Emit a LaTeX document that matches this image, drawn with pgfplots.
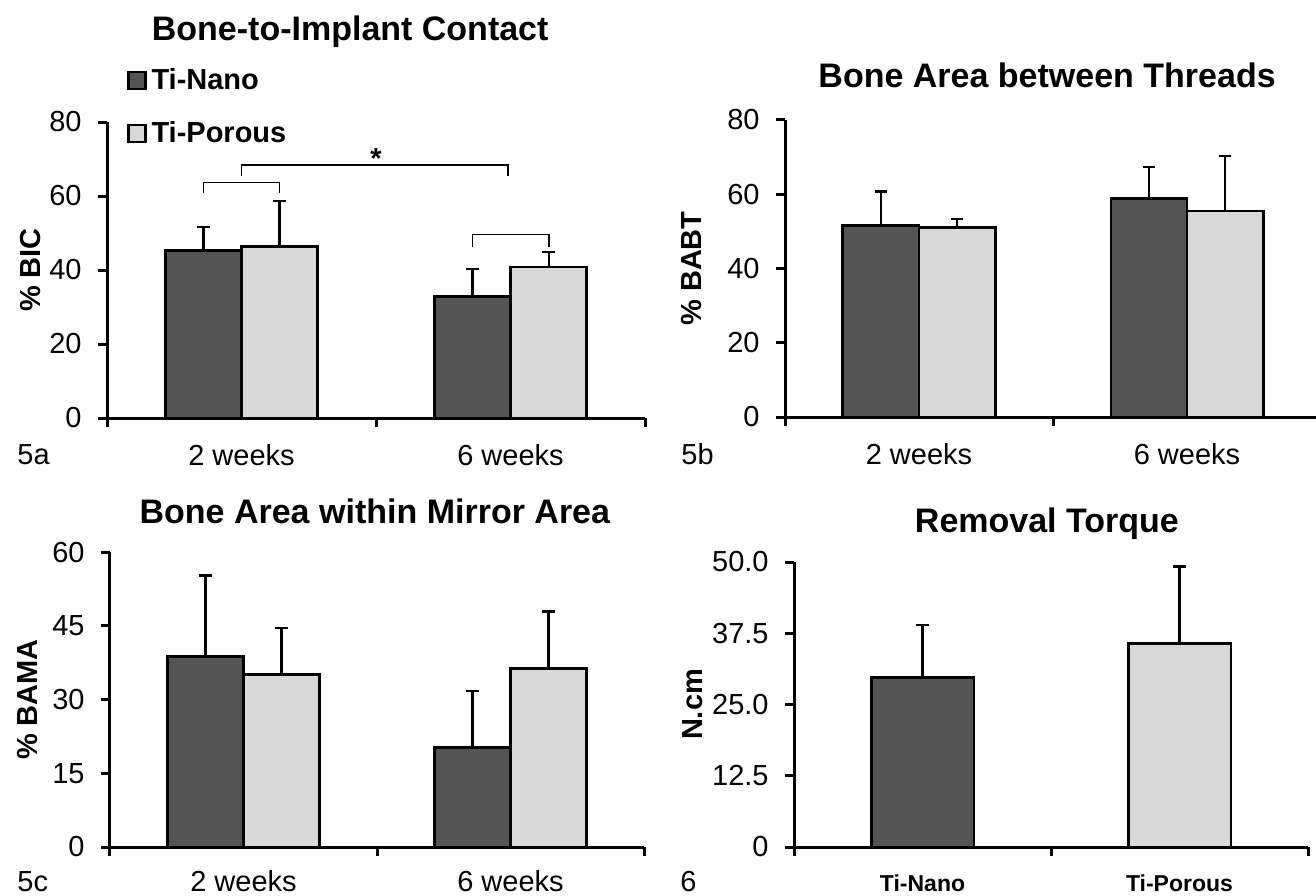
\documentclass[border=0pt]{standalone}
\usepackage{pgfplots}
\pgfplotsset{compat=1.18}
\usepackage{fontspec}
\setmainfont{Liberation Sans}
\definecolor{nano}{RGB}{84,84,84}
\definecolor{porous}{RGB}{216,216,216}
\newcommand{\fs}[1]{\fontsize{#1}{#1}\selectfont}
\pgfplotsset{
  panel/.style={
    scale only axis, clip=false,
    axis lines*=left,
    axis line style={line width=1.5pt},
    tick align=outside,
    major tick length=4.5pt,
    every tick/.append style={line width=1.5pt, black},
    xmin=-0.5, xmax=1.5, ymin=0,
    xtick={-0.5,0.5,1.5}, xticklabels={},
    extra x ticks={0,1},
    extra x tick style={major tick length=0pt},
    /pgf/number format/assume math mode=true,
    tick label style={font=\fs{14.5}},
    yticklabel style={anchor=east, inner sep=0pt, xshift=-8pt},
    xticklabel style={anchor=base, inner sep=0pt, yshift=-23.5pt},
    ybar=0pt, bar width=0.284,
    every axis plot/.append style={draw=black, line width=1.4pt},
    error bars/y dir=plus, error bars/y explicit,
    error bars/error bar style={line width=1.2pt, black, solid},
    error bars/error mark options={line width=1.2pt, mark size=3.2pt, black, rotate=90},
    every axis title/.style={anchor=base, inner sep=0pt, font=\bfseries\fs{17}},
    every axis y label/.style={rotate=90, anchor=center, inner sep=0pt, font=\bfseries\fs{14.5}},
  },
}
\begin{document}
\begin{tikzpicture}
\useasboundingbox (0,0) rectangle (658pt,447.5pt);
% ---------- 5a ----------
\begin{axis}[panel, at={(53.5pt,238.5pt)}, anchor=south west, width=269pt, height=148pt,
  ymax=80, ytick={0,20,40,60,80}, extra x tick labels={2 weeks,6 weeks},
  title={Bone-to-Implant Contact}, title style={at={(rel axis cs:0.452,1.277)}},
  ylabel={\% BIC}, ylabel style={at={(rel axis cs:-0.143,0.5)}},
  legend style={at={(rel axis cs:0.037,1.182)}, anchor=north west, draw=none, fill=none,
    inner sep=0pt, row sep=14.5pt, font=\bfseries\fs{14.5}, nodes={inner sep=0pt},
    /tikz/every odd column/.append style={column sep=2.5pt}},
  legend cell align=left,
  legend image code/.code={\draw[#1, line width=1.2pt] (0pt,-4.2pt) rectangle (8.4pt,4.2pt);},
  ]
\addplot[fill=nano] coordinates {(0,45.3) +- (0,6.4) (1,32.8) +- (0,7.5)};
\addplot[fill=porous] coordinates {(0,46.4) +- (0,12.2) (1,40.8) +- (0,4.1)};
\legend{Ti-Nano, Ti-Porous}
\draw[line width=0.8pt] (axis cs:-0.142,60.7) -- (axis cs:-0.142,63.6) -- (axis cs:0.142,63.6) -- (axis cs:0.142,60.7);
\draw[line width=0.8pt] (axis cs:0,65.5) -- (axis cs:0,68.3) -- (axis cs:0.99,68.3) -- (axis cs:0.99,65.5);
\draw[line width=0.8pt] (axis cs:0.858,46.2) -- (axis cs:0.858,49.6) -- (axis cs:1.142,49.6) -- (axis cs:1.142,46.2);
\node[font=\bfseries\fs{14.5}, inner sep=0pt] at (axis cs:0.5,70.2) {*};
\end{axis}
% ---------- 5b ----------
\begin{axis}[panel, at={(392.5pt,239pt)}, anchor=south west, width=268pt, height=148.5pt,
  ymax=80, ytick={0,20,40,60,80}, extra x tick labels={2 weeks,6 weeks},
  title={Bone Area between Threads}, title style={at={(rel axis cs:0.489,1.111)}},
  ylabel={\% BABT}, ylabel style={at={(rel axis cs:-0.1735,0.5)}},
  ]
\addplot[fill=nano] coordinates {(0,51.6) +- (0,9.1) (1,58.9) +- (0,8.5)};
\addplot[fill=porous] coordinates {(0,51.0) +- (0,2.3) (1,55.5) +- (0,14.8)};
\end{axis}
% ---------- 5c ----------
\begin{axis}[panel, at={(55pt,24pt)}, anchor=south west, width=267pt, height=147.5pt,
  ymax=60, ytick={0,15,30,45,60}, extra x tick labels={2 weeks,6 weeks},
  xticklabel style={yshift=1.5pt},
  title={Bone Area within Mirror Area}, title style={at={(rel axis cs:0.496,1.098)}},
  ylabel={\% BAMA}, ylabel style={at={(rel axis cs:-0.1536,0.5)}},
  ]
\addplot[fill=nano] coordinates {(0,38.8) +- (0,16.4) (1,20.3) +- (0,11.4)};
\addplot[fill=porous] coordinates {(0,35.1) +- (0,9.4) (1,36.3) +- (0,11.6)};
\end{axis}
% ---------- 6 ----------
\begin{axis}[panel, at={(397pt,24pt)}, anchor=south west, width=257pt, height=142.5pt,
  ymax=50, ytick={0,12.5,25,37.5,50}, yticklabels={0,12.5,25.0,37.5,50.0},
  extra x tick labels={Ti-Nano,Ti-Porous},
  xticklabel style={yshift=1.5pt, font=\bfseries\fs{11.5}},
  bar width=0.40,
  title={Removal Torque}, title style={at={(rel axis cs:0.492,1.105)}},
  ylabel={N.cm}, ylabel style={at={(rel axis cs:-0.198,0.5)}},
  ]
\addplot[fill=nano, bar shift=0pt] coordinates {(0,29.8) +- (0,9.2)};
\addplot[fill=porous, bar shift=0pt] coordinates {(1,35.7) +- (0,13.5)};
\end{axis}
\node[anchor=base west, font=\fs{14.5}, inner sep=0pt] at (8.5pt,215pt) {5a};
\node[anchor=base west, font=\fs{14.5}, inner sep=0pt] at (340.5pt,215pt) {5b};
\node[anchor=base west, font=\fs{14.5}, inner sep=0pt] at (8.5pt,2pt) {5c};
\node[anchor=base west, font=\fs{14.5}, inner sep=0pt] at (340pt,2pt) {6};
\end{tikzpicture}
\end{document}
